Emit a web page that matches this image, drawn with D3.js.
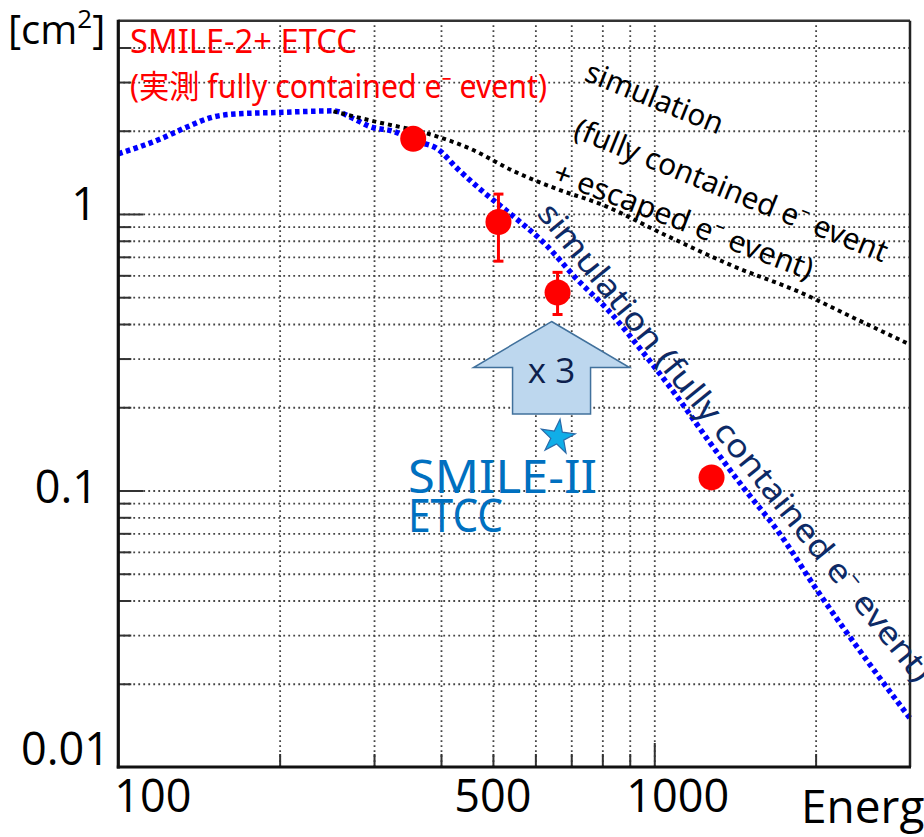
<!DOCTYPE html>
<html><head><meta charset="utf-8">
<script src="https://cdn.jsdelivr.net/npm/d3@7"></script>
<style>html,body{margin:0;padding:0;background:#fff;} svg{display:block;}</style>
</head><body>
<svg id="chart" width="924" height="837"></svg>
<script>
// Effective area [cm^2] versus energy [keV]

// simulation: fully contained electron events
const simFullE    = [100, 120, 134, 150, 165, 200, 252, 275, 295, 326, 360, 394, 429, 473, 546, 621, 718, 828, 954, 1104, 1273, 1466, 1698, 2017, 2500, 3000];
const simFullArea = [1.65, 1.87, 2.06, 2.24, 2.30, 2.33, 2.36, 2.21, 2.07, 1.99, 1.83, 1.72, 1.46, 1.23, 0.98, 0.79, 0.58, 0.44, 0.315, 0.218, 0.148, 0.1025, 0.0716, 0.0433, 0.0241, 0.0150];

// simulation: fully contained + escaped electron events
const simTotalE    = [252, 295, 394, 454, 546, 659, 793, 1058, 1406, 1875, 2325, 3000];
const simTotalArea = [2.35, 2.18, 1.905, 1.72, 1.43, 1.23, 1.087, 0.832, 0.647, 0.52, 0.426, 0.337];

// SMILE-2+ ETCC measured (fully contained)
const measE    = [355, 512, 660, 1279];
const measArea = [1.87, 0.935, 0.52, 0.1115];
const measLow  = [null, 0.675, 0.433, null];
const measHigh = [null, 1.18, 0.615, null];

// SMILE-II ETCC
const smile2E    = [660];
const smile2Area = [0.156];

// axes
const xTickLabels = [100, 500, 1000];
const yTickLabels = [0.01, 0.1, 1];
const xMinorTicks = [200, 300, 400, 500, 600, 700, 800, 900, 2000];
const xMajorTicks = [1000];
const yMinorTicks = [0.02, 0.03, 0.04, 0.05, 0.06, 0.07, 0.08, 0.09, 0.2, 0.3, 0.4, 0.5, 0.6, 0.7, 0.8, 0.9, 2, 3, 4];
const yMajorTicks = [0.1, 1];

const svg = d3.select("#chart");
const plotL = 118.3, plotR = 910, plotT = 20.7, plotB = 767;
const x = d3.scaleLog().domain([100, 3000]).range([plotL, plotR]);
const y = d3.scaleLog().domain([0.01, 5]).range([plotB, plotT]);

svg.append("rect").attr("width", 924).attr("height", 837).attr("fill", "#fff");

// dotted grid
const gridX = svg.append("g").attr("transform", `translate(0,${plotB})`)
  .call(d3.axisBottom(x).tickValues(xMinorTicks.concat(xMajorTicks)).tickSize(-(plotB - plotT)).tickFormat(""));
const gridY = svg.append("g").attr("transform", `translate(${plotL},0)`)
  .call(d3.axisLeft(y).tickValues(yMinorTicks.concat(yMajorTicks)).tickSize(-(plotR - plotL)).tickFormat(""));
[gridX, gridY].forEach(g => {
  g.select(".domain").remove();
  g.selectAll("line").attr("stroke", "#444").attr("stroke-width", 1.8).attr("stroke-dasharray", "1.8,3.2");
});

// inner ticks
function ticks(axis, tr, vals, len) {
  const g = svg.append("g").attr("transform", tr).call(axis.tickValues(vals).tickSize(-len).tickFormat(""));
  g.select(".domain").remove();
  g.selectAll("line").attr("stroke", "#333").attr("stroke-width", 2);
}
ticks(d3.axisBottom(x), `translate(0,${plotB})`, xMinorTicks, 13);
ticks(d3.axisBottom(x), `translate(0,${plotB})`, xMajorTicks, 24);
ticks(d3.axisLeft(y), `translate(${plotL},0)`, yMinorTicks, 13);
ticks(d3.axisLeft(y), `translate(${plotL},0)`, yMajorTicks, 25);

const line = d3.line().x(d => x(d[0])).y(d => y(d[1])).curve(d3.curveMonotoneX);

// simulated curves
svg.append("path").datum(d3.zip(simFullE, simFullArea))
  .attr("d", line).attr("fill", "none").attr("stroke", "#0000ff")
  .attr("stroke-width", 5.5).attr("stroke-dasharray", "4.5,3.5");
svg.append("path").datum(d3.zip(simTotalE, simTotalArea))
  .attr("d", line).attr("fill", "none").attr("stroke", "#000")
  .attr("stroke-width", 4).attr("stroke-dasharray", "4,4");

// measured points with error bars
const meas = measE.map((e, i) => ({e, a: measArea[i], lo: measLow[i], hi: measHigh[i]}));
const bars = meas.filter(d => d.lo != null);
svg.append("g").selectAll("line").data(bars).join("line")
  .attr("x1", d => x(d.e)).attr("x2", d => x(d.e))
  .attr("y1", d => y(d.lo)).attr("y2", d => y(d.hi))
  .attr("stroke", "#ff0000").attr("stroke-width", 3);
bars.forEach(d => {
  [d.lo, d.hi].forEach(v => {
    svg.append("line").attr("x1", x(d.e) - 5).attr("x2", x(d.e) + 5)
      .attr("y1", y(v)).attr("y2", y(v)).attr("stroke", "#ff0000").attr("stroke-width", 3);
  });
});
svg.append("g").selectAll("circle").data(meas).join("circle")
  .attr("cx", d => x(d.e)).attr("cy", d => y(d.a)).attr("r", 13).attr("fill", "#ff0000");

// x3 arrow from SMILE-II point up to the measured point
const ax = x(smile2E[0]) - 6;
const aBottom = y(smile2Area[0]) - 23;
const aTip = y(measArea[2]) + 29;
const aHead = aTip + 46;
svg.append("polygon")
  .attr("points", [[ax, aTip], [ax + 78, aHead], [ax + 39, aHead], [ax + 39, aBottom],
                   [ax - 39, aBottom], [ax - 39, aHead], [ax - 78, aHead]].map(p => p.join(",")).join(" "))
  .attr("fill", "#bdd7ee").attr("stroke", "#41719c").attr("stroke-width", 1.5);
svg.append("text").attr("x", ax).attr("y", aBottom - 31).attr("text-anchor", "middle")
  .attr("font-family", "'Open Sans', sans-serif").attr("font-size", 35).attr("fill", "#0d1f4d")
  .text("x 3");

// SMILE-II star
svg.append("path")
  .attr("d", d3.symbol(d3.symbolStar, 364)())
  .attr("transform", `translate(${x(smile2E[0])},${y(smile2Area[0])}) rotate(8)`)
  .attr("fill", "#10aee8").attr("stroke", "#2a6aa8").attr("stroke-width", 1.2);

// frame
svg.append("line").attr("x1", plotL).attr("x2", plotR).attr("y1", plotT).attr("y2", plotT).attr("stroke", "#333").attr("stroke-width", 2.5);
svg.append("line").attr("x1", plotR).attr("x2", plotR).attr("y1", plotT).attr("y2", plotB).attr("stroke", "#222").attr("stroke-width", 2.5);
svg.append("line").attr("x1", plotL).attr("x2", plotL).attr("y1", plotT - 1).attr("y2", plotB + 1.5).attr("stroke", "#111").attr("stroke-width", 3.2);
svg.append("line").attr("x1", plotL - 1.5).attr("x2", plotR + 1).attr("y1", plotB).attr("y2", plotB).attr("stroke", "#111").attr("stroke-width", 3);

// tick labels
const tickFont = "'Open Sans', 'Liberation Sans', sans-serif";
const xLabelPlace = {100: {anchor: "start", dx: -4}, 500: {anchor: "middle", dx: 0}, 1000: {anchor: "start", dx: -28}};
svg.append("g").selectAll("text").data(xTickLabels).join("text")
  .attr("x", d => x(d) + xLabelPlace[d].dx).attr("y", 812)
  .attr("text-anchor", d => xLabelPlace[d].anchor)
  .attr("font-family", tickFont).attr("font-size", 45).attr("fill", "#000")
  .text(d => d);
const yLabelPlace = {0.01: {x: 110, dy: -2}, 0.1: {x: 98, dy: 13}, 1: {x: 97, dy: 6}};
svg.append("g").selectAll("text").data(yTickLabels).join("text")
  .attr("x", d => yLabelPlace[d].x).attr("y", d => y(d) + yLabelPlace[d].dy)
  .attr("text-anchor", "end")
  .attr("font-family", tickFont).attr("font-size", 45).attr("fill", "#000")
  .text(d => d);

// axis titles
const unit = svg.append("text").attr("x", 8).attr("y", 44)
  .attr("font-family", tickFont).attr("font-size", 40).attr("fill", "#000");
unit.append("tspan").text("[cm");
unit.append("tspan").attr("font-size", 26).attr("dy", -16).text("2");
unit.append("tspan").attr("dy", 16).text("]");
svg.append("text").attr("x", 801).attr("y", 823)
  .attr("font-family", tickFont).attr("font-size", 46).attr("fill", "#000").text("Energ");

// annotations
const noteFont = "'Noto Sans', 'Noto Sans CJK JP', sans-serif";
function note(txt, x0, y0, angle, size, len, color) {
  svg.append("text")
    .attr("transform", `translate(${x0},${y0}) rotate(${angle})`)
    .attr("font-family", noteFont).attr("font-size", size).attr("fill", color)
    .attr("textLength", len).attr("lengthAdjust", "spacingAndGlyphs")
    .text(txt);
}
note("SMILE-2+ ETCC", 130, 53, 0, 32, 227, "#ff0000");
note("(実測 fully contained e⁻ event)", 130, 98, 0, 32, 417, "#ff0000");

note("simulation", 583, 80, 22, 30, 146, "#000");
note("(fully contained e⁻ event", 572, 137, 22, 30, 335, "#000");
note("+ escaped e⁻ event)", 551, 181, 21, 30, 276, "#000");

note("simulation (fully contained e⁻ event)", 536, 214, 51, 32, 605, "#0d2a66");

note("SMILE-II", 408, 493, 0, 46, 189, "#0070c0");
note("ETCC", 408, 532, 0, 46, 95, "#0070c0");
</script>
</body></html>
